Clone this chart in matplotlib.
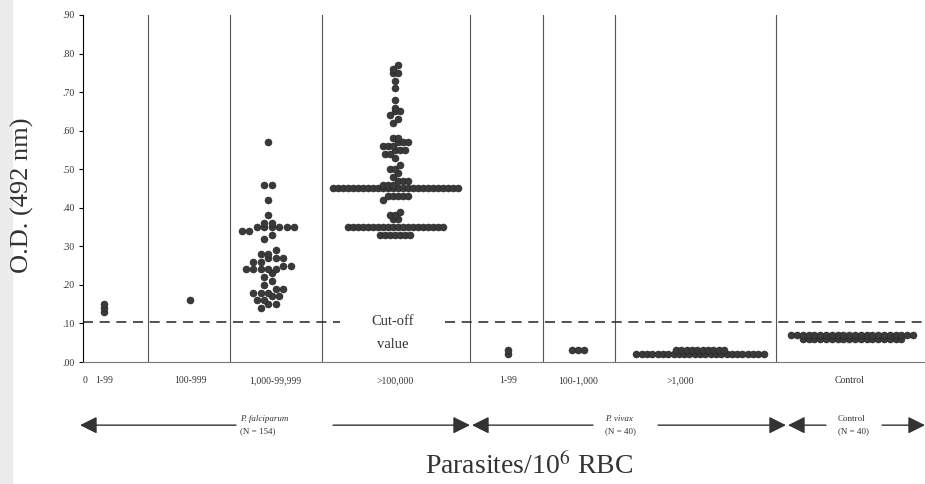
import numpy as np
import matplotlib
matplotlib.use("Agg")
import matplotlib.pyplot as plt
from matplotlib.patches import Rectangle
from matplotlib.transforms import blended_transform_factory

plt.rcParams["font.family"] = ["Liberation Serif", "DejaVu Serif"]
plt.rcParams["mathtext.fontset"] = "stix"

# --- data: O.D. (492 nm) readings per parasitemia class ---
group_labels = ["1-99", "100-999", "1,000-99,999", ">100,000",
                "1-99", "100-1,000", ">1,000", "Control"]

pf_1_99 = [0.13, 0.14, 0.15]
pf_100_999 = [0.16]
pf_1k_99k = [0.57, 0.46, 0.46, 0.42, 0.38, 0.36, 0.36, 0.35, 0.35, 0.35,
             0.35, 0.35, 0.35, 0.34, 0.34, 0.33, 0.32, 0.29, 0.28, 0.28,
             0.27, 0.27, 0.27, 0.26, 0.26, 0.25, 0.25, 0.24, 0.24, 0.24,
             0.24, 0.24, 0.23, 0.22, 0.21, 0.20, 0.19, 0.19, 0.18, 0.18,
             0.18, 0.17, 0.17, 0.16, 0.16, 0.15, 0.15, 0.14]
pf_100k = ([0.77, 0.76, 0.75, 0.75, 0.73, 0.71,
            0.68, 0.66, 0.65, 0.65, 0.64, 0.63, 0.62,
            0.58, 0.58, 0.57, 0.57, 0.57, 0.56, 0.56, 0.56, 0.55, 0.55,
            0.55, 0.54, 0.54, 0.53,
            0.51, 0.50, 0.50, 0.49, 0.48,
            0.47, 0.47, 0.47, 0.46, 0.46, 0.46]
           + [0.45] * 26
           + [0.43, 0.43, 0.43, 0.43, 0.43, 0.42,
              0.39, 0.38, 0.38, 0.37, 0.37]
           + [0.35] * 20
           + [0.33] * 7)
pv_1_99 = [0.02, 0.03]
pv_100_1k = [0.03, 0.03, 0.03]
pv_1k = [0.02] * 25 + [0.03] * 10
control = [0.07] * 22 + [0.06] * 18

group_values = [pf_1_99, pf_100_999, pf_1k_99k, pf_100k,
                pv_1_99, pv_100_1k, pv_1k, control]
cutoff = 0.105

species = ["P. falciparum", "P. vivax", "Control"]
species_n = ["(N = 154)", "(N = 40)", "(N = 40)"]

# --- layout (x axis runs in pixel-like units, 0..842) ---
group_centers = [21, 107, 185, 312, 425, 495, 617, 769]
group_dx = [0, 0, 7.5, 5.0, 0, 6, 5.3, 5.8]
group_bin = [0.01, 0.01, 0.02, 0.02, 0.01, 0.01, 0.01, 0.01]
dividers = [65, 147, 239, 387, 460, 532, 693]
tick_pos = [2, 21, 107, 192, 312, 425, 495, 597, 767]


def dot_rows(values, center, dx, bin_h):
    vals = np.asarray(values, dtype=float)
    rows = np.floor(vals / bin_h + 1e-6)
    xs, ys = [], []
    for r in np.unique(rows):
        v = np.sort(vals[rows == r])
        n = len(v)
        offs = (np.arange(n) - (n - 1) / 2) * dx
        xs.extend(center + offs)
        ys.extend(v)
    return xs, ys


fig = plt.figure(figsize=(9.25, 4.84), dpi=100)
fig.patches.append(Rectangle((0, 0), 0.013, 1, transform=fig.transFigure,
                             color="#ececec", zorder=0))
ax = fig.add_axes([83 / 925, 122 / 484, 842 / 925, 347 / 484])
ax.set_xlim(0, 842)
ax.set_ylim(0, 0.90)

for d in dividers:
    ax.axvline(d, color="#555555", lw=0.8, zorder=1)

for vals, c, dx, b in zip(group_values, group_centers, group_dx, group_bin):
    xs, ys = dot_rows(vals, c, dx, b)
    ax.scatter(xs, ys, s=26, color="#3a3a3a", edgecolor="#1e1e1e",
               linewidth=0.3, zorder=3)

# cut-off line with a gap for its label
dash = dict(color="#333333", lw=1.2, dashes=(6, 4), zorder=2)
ax.plot([0, 257], [cutoff, cutoff], **dash)
ax.plot([362, 842], [cutoff, cutoff], **dash)
ax.text(310, 0.105, "Cut-off", ha="center", va="center", fontsize=10.5,
        color="#333333")
ax.text(310, 0.045, "value", ha="center", va="center", fontsize=10.5,
        color="#333333")

for s in ["top", "right"]:
    ax.spines[s].set_visible(False)
ax.spines["left"].set_linewidth(0.8)
ax.spines["bottom"].set_color("#777777")
ax.spines["bottom"].set_linewidth(0.8)

yt = np.round(np.arange(0, 0.91, 0.1), 2)
ax.set_yticks(yt, [f"{v:.2f}"[1:] for v in yt])
ax.tick_params(axis="y", length=3, width=0.8, labelsize=7, pad=3,
               labelcolor="#333333")
ax.set_xticks(tick_pos, ["0"] + group_labels)
ax.tick_params(axis="x", length=0, labelsize=7, pad=10, labelcolor="#333333")

fig.text(22 / 925, 1 - 195 / 484, "O.D. (492 nm)", rotation=90,
         ha="center", va="center", fontsize=19, color="#333333")
fig.text(529 / 925, 10 / 484, "Parasites/10$^{6}$ RBC", ha="center",
         va="baseline", fontsize=20, color="#333333")

# species arrows below the axis
tr = blended_transform_factory(ax.transData, ax.transAxes)
ya = -0.182
spans = [(-3, 387, 153, 157, 250), (389, 703, 510, 522, 575),
         (705, 842, 743, 755, 799)]
arrow = dict(arrowstyle="-|>", mutation_scale=26, lw=1.0, color="#333333",
             shrinkA=0, shrinkB=0)
for (x0, x1, g0, tx, g1), name, n in zip(spans, species, species_n):
    ax.annotate("", xy=(x0, ya), xytext=(g0, ya), xycoords=tr,
                textcoords=tr, arrowprops=arrow, annotation_clip=False)
    ax.annotate("", xy=(x1, ya), xytext=(g1, ya), xycoords=tr,
                textcoords=tr, arrowprops=arrow, annotation_clip=False)
    ax.text(tx, ya + 0.018, name, transform=tr, ha="left", va="center",
            fontsize=6.5, color="#333333",
            style="italic" if name != "Control" else "normal")
    ax.text(tx, ya - 0.018, n, transform=tr, ha="left", va="center",
            fontsize=6.5, color="#333333")

fig.savefig("out.png", dpi=100)
